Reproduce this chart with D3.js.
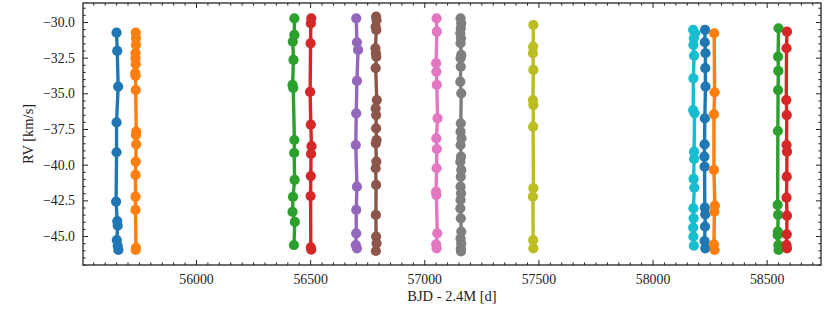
<!DOCTYPE html>
<html>
<head>
<meta charset="utf-8">
<script src="https://cdn.jsdelivr.net/npm/d3@7/dist/d3.min.js"></script>
<style>
  html, body { margin: 0; padding: 0; background: #fff; }
  svg { display: block; }
  text { font-family: "Liberation Serif", "DejaVu Serif", serif; fill: #222; }
</style>
</head>
<body>
<svg id="chart" width="830" height="312"></svg>
<script>
// ---- Data ----
const xTicks = [56000, 56500, 57000, 57500, 58000, 58500];
const yTicks = [-30.0, -32.5, -35.0, -37.5, -40.0, -42.5, -45.0];
const palette = ["#1f77b4", "#ff7f0e", "#2ca02c", "#d62728", "#9467bd",
                 "#8c564b", "#e377c2", "#7f7f7f", "#bcbd22", "#17becf"];

const t01 = [55652, 55655, 55659, 55652, 55652, 55650, 55655, 55657, 55653, 55657, 55660];
const rv01 = [-30.75, -32.03, -34.53, -37.03, -39.13, -42.59, -43.95, -44.27, -45.28, -45.68, -45.98];

const t02 = [55736, 55737, 55737, 55735, 55735, 55736, 55734, 55735, 55736, 55738, 55737, 55738, 55736, 55735, 55735, 55735, 55737, 55736];
const rv02 = [-30.75, -31.14, -31.61, -32.19, -32.54, -32.96, -33.59, -33.76, -34.77, -37.69, -37.92, -38.57, -39.79, -40.72, -42.24, -43.17, -45.82, -45.98];

const t03 = [56431, 56431, 56424, 56427, 56423, 56426, 56431, 56430, 56432, 56425, 56423, 56433, 56429];
const rv03 = [-29.74, -30.91, -31.38, -32.66, -34.41, -34.62, -38.27, -39.18, -41.07, -42.26, -43.31, -44.01, -45.63];

const t04 = [56505, 56503, 56502, 56500, 56503, 56506, 56504, 56503, 56502, 56503, 56505];
const rv04 = [-29.74, -30.10, -31.50, -34.90, -37.20, -38.70, -39.25, -40.80, -42.20, -45.80, -45.95];

const t05 = [56702, 56705, 56710, 56705, 56702, 56700, 56705, 56702, 56702, 56700, 56705];
const rv05 = [-29.74, -31.42, -31.96, -34.13, -36.40, -38.62, -41.54, -43.17, -44.81, -45.63, -45.86];

const t06 = [56789, 56791, 56787, 56790, 56786, 56788, 56790, 56787, 56792, 56787, 56789, 56789, 56791, 56788, 56790, 56787, 56789, 56788, 56789, 56791, 56788];
const rv06 = [-29.63, -29.86, -30.33, -30.56, -31.84, -32.19, -32.43, -33.24, -35.47, -36.05, -36.52, -37.45, -38.27, -38.50, -39.79, -40.25, -41.42, -43.52, -45.04, -45.51, -46.05];

const t07 = [57054, 57055, 57052, 57053, 57055, 57058, 57053, 57055, 57054, 57052, 57053, 57057, 57052, 57054];
const rv07 = [-29.74, -30.68, -32.89, -33.48, -34.41, -36.75, -38.15, -38.90, -40.25, -41.89, -42.12, -44.81, -45.58, -45.86];

const t08 = [57159, 57162, 57160, 57158, 57161, 57159, 57162, 57159, 57160, 57158, 57162, 57160, 57159, 57163, 57159, 57161, 57158, 57162, 57160, 57159, 57161, 57159, 57158, 57160, 57162, 57159, 57162, 57160, 57161];
const rv08 = [-29.74, -30.09, -30.44, -30.79, -31.14, -31.49, -32.31, -32.54, -33.13, -34.18, -35.00, -37.10, -37.69, -38.15, -38.62, -39.44, -39.79, -40.37, -40.84, -41.54, -42.01, -42.47, -43.06, -43.76, -44.69, -45.16, -45.51, -45.86, -46.08];

const t09 = [57478, 57477, 57476, 57478, 57476, 57478, 57477, 57478, 57476, 57477, 57478];
const rv09 = [-30.21, -31.73, -32.19, -33.36, -35.47, -35.82, -37.34, -41.65, -42.24, -45.28, -45.86];

const t10 = [58178, 58187, 58181, 58179, 58182, 58179, 58178, 58184, 58182, 58182, 58180, 58183, 58179, 58180, 58178, 58179, 58181];
const rv10 = [-30.56, -30.79, -31.14, -31.61, -32.36, -33.95, -36.17, -36.40, -39.09, -39.60, -41.00, -41.61, -43.06, -43.76, -44.41, -45.04, -45.68];

const t11 = [58230, 58229, 58232, 58231, 58232, 58229, 58228, 58227, 58228, 58229, 58231, 58230, 58228, 58231];
const rv11 = [-30.56, -31.42, -32.19, -33.24, -34.53, -36.75, -38.57, -39.44, -40.14, -43.01, -43.48, -44.34, -45.35, -45.86];

const t12 = [58270, 58272, 58269, 58269, 58273, 58271, 58269, 58272];
const rv12 = [-30.79, -34.93, -36.47, -40.37, -42.87, -43.29, -45.58, -45.98];

const t13 = [58552, 58550, 58551, 58550, 58549, 58548, 58550, 58549, 58548, 58551, 58552];
const rv13 = [-30.44, -32.43, -33.43, -34.77, -37.64, -42.82, -43.52, -44.69, -44.93, -45.63, -45.98];

const t14 = [58589, 58587, 58586, 58588, 58587, 58589, 58588, 58587, 58589, 58588, 58587, 58589];
const rv14 = [-30.68, -31.84, -35.47, -36.52, -38.62, -39.09, -40.84, -42.31, -43.57, -44.88, -45.63, -45.86];

const seasonTimes = [t01, t02, t03, t04, t05, t06, t07, t08, t09, t10, t11, t12, t13, t14];
const seasonRVs   = [rv01, rv02, rv03, rv04, rv05, rv06, rv07, rv08, rv09, rv10, rv11, rv12, rv13, rv14];

// ---- Layout ----
const svg = d3.select("#chart");
const L = 83, R = 821, T = 3, B = 265;

const x = d3.scaleLinear().domain([55505, 58738]).range([L, R]);
const y = d3.scaleLinear().domain([-47.03, -28.67]).range([B, T]);

svg.append("defs").append("clipPath").attr("id", "clip")
  .append("rect").attr("x", L).attr("y", T).attr("width", R - L).attr("height", B - T);

const plot = svg.append("g").attr("clip-path", "url(#clip)");

const line = d3.line().x(d => x(d[0])).y(d => y(d[1]));

seasonTimes.forEach((ts, i) => {
  const pts = ts.map((t, j) => [t, seasonRVs[i][j]]);
  const col = palette[i % palette.length];
  const g = plot.append("g");
  g.append("path").datum(pts)
    .attr("d", line)
    .attr("fill", "none")
    .attr("stroke", col)
    .attr("stroke-width", 3.4)
    .attr("stroke-linejoin", "round");
  g.selectAll("circle").data(pts).enter().append("circle")
    .attr("cx", d => x(d[0]))
    .attr("cy", d => y(d[1]))
    .attr("r", 5.1)
    .attr("fill", col);
});

// ---- Axes (ticks inward on all sides) ----
const fmtY = d => d3.format(".1f")(d).replace("-", "\u2212");
const xMinor = d3.range(55550, 58738, 50).filter(v => v % 500 !== 0);
const yMinor = d3.range(-47.0, -28.6, 0.5).filter(v => Math.abs((v / 2.5) - Math.round(v / 2.5)) > 1e-6);

const major = 5, minor = 2.6, sw = 1;

const bottomAxis = d3.axisBottom(x).tickValues(xTicks).tickSizeInner(-major).tickSizeOuter(0).tickPadding(9).tickFormat(d3.format("d"));
const topAxis = d3.axisTop(x).tickValues(xTicks).tickSizeInner(-major).tickSizeOuter(0).tickFormat("");
const leftAxis = d3.axisLeft(y).tickValues(yTicks).tickSizeInner(-major).tickSizeOuter(0).tickPadding(8).tickFormat(fmtY);
const rightAxis = d3.axisRight(y).tickValues(yTicks).tickSizeInner(-major).tickSizeOuter(0).tickFormat("");

const bottomMinor = d3.axisBottom(x).tickValues(xMinor).tickSizeInner(-minor).tickSizeOuter(0).tickFormat("");
const topMinor = d3.axisTop(x).tickValues(xMinor).tickSizeInner(-minor).tickSizeOuter(0).tickFormat("");
const leftMinor = d3.axisLeft(y).tickValues(yMinor).tickSizeInner(-minor).tickSizeOuter(0).tickFormat("");
const rightMinor = d3.axisRight(y).tickValues(yMinor).tickSizeInner(-minor).tickSizeOuter(0).tickFormat("");

function addAxis(ax, tr) {
  const g = svg.append("g").attr("transform", tr).call(ax);
  g.select(".domain").remove();
  g.selectAll(".tick line").attr("stroke", "#222").attr("stroke-width", sw);
  g.selectAll("text").attr("font-size", "13.8px").attr("fill", "#222")
    .style("font-family", '"Liberation Serif", "DejaVu Serif", serif');
  return g;
}
addAxis(bottomMinor, `translate(0,${B})`);
addAxis(topMinor, `translate(0,${T})`);
addAxis(leftMinor, `translate(${L},0)`);
addAxis(rightMinor, `translate(${R},0)`);
addAxis(bottomAxis, `translate(0,${B})`);
addAxis(topAxis, `translate(0,${T})`);
addAxis(leftAxis, `translate(${L},0)`);
addAxis(rightAxis, `translate(${R},0)`);

// frame
svg.append("rect").attr("x", L).attr("y", T).attr("width", R - L).attr("height", B - T)
  .attr("fill", "none").attr("stroke", "#222").attr("stroke-width", 1.3);

// axis labels
svg.append("text").attr("x", (L + R) / 2).attr("y", 301).attr("text-anchor", "middle")
  .attr("font-size", "14.5px").text("BJD - 2.4M [d]");
svg.append("text").attr("transform", `translate(33,${(T + B) / 2}) rotate(-90)`)
  .attr("text-anchor", "middle").attr("font-size", "14.5px").text("RV [km/s]");
</script>
</body>
</html>
